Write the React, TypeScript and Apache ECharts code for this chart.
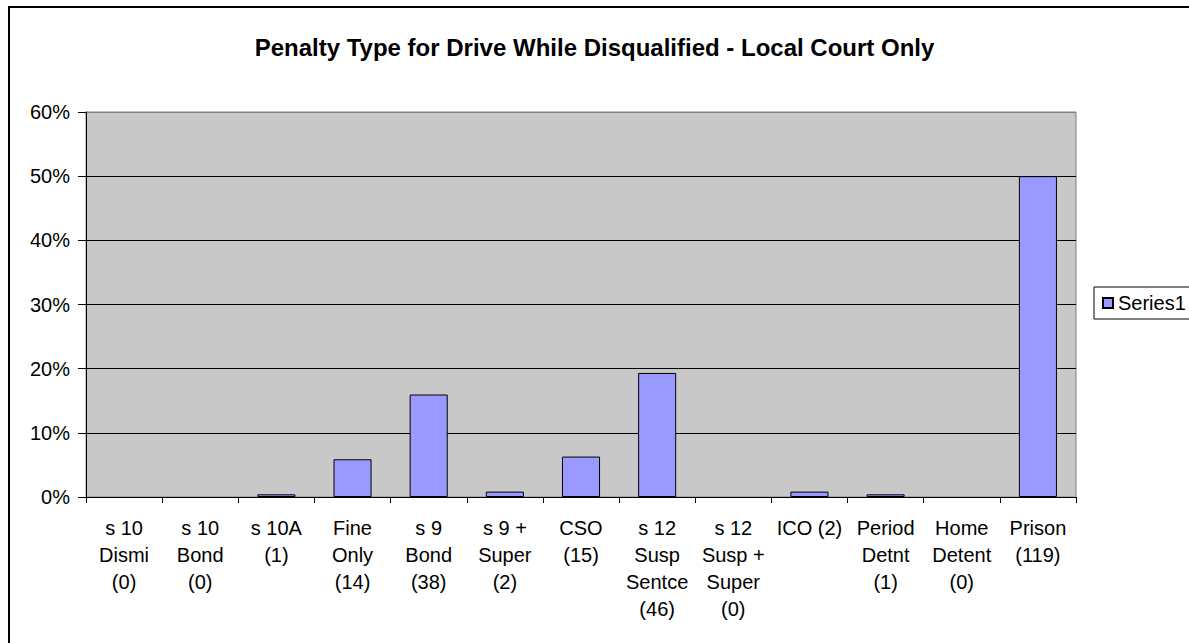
import React, { useEffect, useRef } from "react";
import * as echarts from "echarts";

const categories = [
  "s 10\nDismi\n(0)",
  "s 10\nBond\n(0)",
  "s 10A\n(1)",
  "Fine\nOnly\n(14)",
  "s 9\nBond\n(38)",
  "s 9 +\nSuper\n(2)",
  "CSO\n(15)",
  "s 12\nSusp\nSentce\n(46)",
  "s 12\nSusp +\nSuper\n(0)",
  "ICO (2)",
  "Period\nDetnt\n(1)",
  "Home\nDetent\n(0)",
  "Prison\n(119)",
];
const series1 = [0, 0, 0.0042, 0.0588, 0.1597, 0.0084, 0.063, 0.1933, 0, 0.0084, 0.0042, 0, 0.5];
const titleText = "Penalty Type for Drive While Disqualified - Local Court Only";
const seriesName = "Series1";

const FONT = "Liberation Sans, Arial, sans-serif";

export default function App() {
  const ref = useRef<HTMLDivElement>(null);
  useEffect(() => {
    if (!ref.current) return;
    const chart = echarts.init(ref.current, null, { renderer: "svg" });
    chart.setOption({
      animation: false,
      backgroundColor: "#ffffff",
      textStyle: { fontFamily: FONT },
      title: {
        text: titleText,
        left: "center",
        top: 30,
        textStyle: { fontFamily: FONT, fontSize: 24, fontWeight: "bold", color: "#000" },
      },
      graphic: [
        {
          type: "rect",
          shape: { x: 9, y: 7, width: 1200, height: 660 },
          style: { fill: "none", stroke: "#000", lineWidth: 2 },
          silent: true,
        },
      ],
      legend: {
        left: 1094,
        top: 287,
        orient: "vertical",
        data: [seriesName],
        icon: "rect",
        itemWidth: 10,
        itemHeight: 10,
        padding: [6, 30, 6, 8],
        borderColor: "#000",
        borderWidth: 1,
        backgroundColor: "#fff",
        borderRadius: 0,
        textStyle: { fontFamily: FONT, fontSize: 20, color: "#000" },
      },
      grid: {
        left: 86,
        right: 113,
        top: 112,
        bottom: 146,
        show: true,
        backgroundColor: "#c8c8c8",
        borderColor: "#808080",
        borderWidth: 1,
      },
      xAxis: {
        type: "category",
        data: categories,
        axisLine: { show: true, lineStyle: { color: "#000", width: 1 } },
        axisTick: { show: true, interval: 0, length: 6, lineStyle: { color: "#000" } },
        axisLabel: {
          interval: 0,
          margin: 17,
          fontFamily: FONT,
          fontSize: 20,
          lineHeight: 27,
          color: "#000",
        },
      },
      yAxis: {
        type: "value",
        min: 0,
        max: 0.6,
        interval: 0.1,
        axisLine: { show: true, lineStyle: { color: "#000", width: 1 } },
        axisTick: { show: true, length: 8, lineStyle: { color: "#000" } },
        splitLine: {
          show: true,
          lineStyle: { color: ["#000", "#000", "#000", "#000", "#000", "#000", "#808080"], width: 1 },
        },
        axisLabel: {
          margin: 16,
          fontFamily: FONT,
          fontSize: 20,
          color: "#000",
          formatter: (v: number) => Math.round(v * 100) + "%",
        },
      },
      series: [
        {
          name: seriesName,
          type: "bar",
          barWidth: "50%",
          data: series1.map((v) =>
            v === 0 ? { value: v, itemStyle: { borderWidth: 0, opacity: 0 } } : v
          ),
          itemStyle: { color: "#9999ff", borderColor: "#000", borderWidth: 1 },
        },
      ],
    });
    return () => chart.dispose();
  }, []);
  return (
    <div
      ref={ref}
      style={{ position: "absolute", left: 0, top: 0, width: 1189, height: 643 }}
    />
  );
}
